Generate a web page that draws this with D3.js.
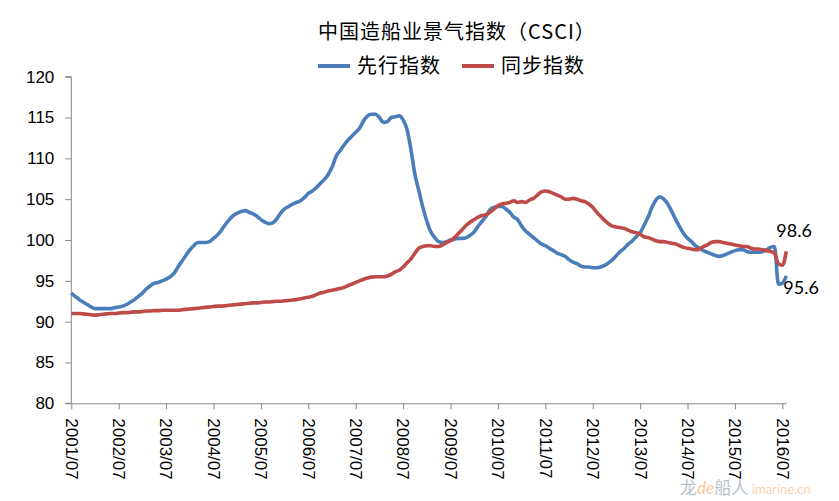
<!DOCTYPE html>
<html>
<head>
<meta charset="utf-8">
<script src="https://cdn.jsdelivr.net/npm/d3@7"></script>
<style>
  body { margin: 0; background: #fff; }
  svg { display: block; font-family: Lato, "Noto Sans", sans-serif; }
  .axis path, .axis line { stroke: #868686; }
  .axis text { font-size: 17px; fill: #000; }
</style>
</head>
<body>
<svg width="839" height="501"></svg>
<script>
// monthly values, 2001/07 .. 2016/08
var leading = [
	93.5, 93.1, 92.7, 92.4, 92.1, 91.8, 91.6, 91.6, 91.6, 91.6, 91.6, 91.7,
	91.8, 91.9, 92.1, 92.4, 92.7, 93.1, 93.5, 94.0, 94.4, 94.7, 94.8, 95.0,
	95.2, 95.5, 95.9, 96.7, 97.4, 98.1, 98.8, 99.3, 99.7, 99.7, 99.7, 99.8,
	100.2, 100.6, 101.2, 101.9, 102.5, 103.0, 103.3, 103.5, 103.6, 103.4, 103.2, 102.9,
	102.5, 102.2, 102.0, 102.1, 102.6, 103.3, 103.8, 104.1, 104.4, 104.6, 104.8, 105.2,
	105.7, 106.0, 106.4, 106.9, 107.4, 108.0, 108.9, 110.2, 110.9, 111.6, 112.2, 112.7,
	113.2, 113.7, 114.6, 115.2, 115.4, 115.4, 115.0, 114.4, 114.5, 115.0, 115.1, 115.2,
	114.7, 113.5, 111.0, 108.0, 106.0, 104.0, 102.3, 101.0, 100.3, 99.8, 99.7, 99.8,
	100.0, 100.1, 100.2, 100.2, 100.3, 100.6, 101.0, 101.7, 102.3, 102.9, 103.7, 104.0,
	104.1, 104.1, 103.8, 103.4, 102.8, 102.5, 101.7, 101.1, 100.7, 100.3, 99.9, 99.5,
	99.3, 99.0, 98.7, 98.4, 98.2, 98.0, 97.6, 97.3, 97.1, 96.8, 96.7, 96.7,
	96.6, 96.6, 96.7, 96.9, 97.2, 97.6, 98.1, 98.6, 99.0, 99.5, 99.9, 100.4,
	100.9, 101.8, 102.8, 104.0, 104.9, 105.3, 105.0, 104.4, 103.5, 102.5, 101.6, 100.8,
	100.2, 99.8, 99.3, 99.0, 98.7, 98.5, 98.3, 98.1, 98.0, 98.1, 98.3, 98.5,
	98.7, 98.8, 98.8, 98.6, 98.5, 98.5, 98.5, 98.6, 98.8, 99.1, 99.2, 94.6,
	94.7, 95.6
];
var coincident = [
	91.0, 91.0, 91.0, 90.95, 90.9, 90.85, 90.8, 90.85, 90.9, 90.95, 91.0, 91.0,
	91.05, 91.1, 91.1, 91.15, 91.2, 91.2, 91.25, 91.3, 91.3, 91.35, 91.35, 91.4,
	91.4, 91.4, 91.4, 91.4, 91.45, 91.5, 91.55, 91.6, 91.65, 91.7, 91.75, 91.8,
	91.85, 91.9, 91.9, 91.95, 92.0, 92.05, 92.1, 92.15, 92.2, 92.25, 92.3, 92.3,
	92.35, 92.4, 92.4, 92.45, 92.5, 92.5, 92.55, 92.6, 92.65, 92.7, 92.8, 92.9,
	93.0, 93.1, 93.3, 93.5, 93.6, 93.75, 93.85, 93.95, 94.05, 94.2, 94.4, 94.6,
	94.8, 95.0, 95.2, 95.35, 95.45, 95.5, 95.5, 95.5, 95.6, 95.8, 96.1, 96.3,
	96.7, 97.2, 97.7, 98.4, 99.0, 99.2, 99.3, 99.3, 99.2, 99.2, 99.4, 99.7,
	99.9, 100.3, 100.8, 101.3, 101.8, 102.2, 102.5, 102.8, 103.0, 103.1, 103.4, 103.8,
	104.2, 104.4, 104.5, 104.6, 104.8, 104.6, 104.7, 104.6, 104.9, 105.1, 105.5, 105.9,
	106.0, 105.9, 105.7, 105.5, 105.3, 105.0, 105.0, 105.1, 105.0, 104.8, 104.7, 104.4,
	104.0, 103.4, 102.9, 102.4, 102.0, 101.7, 101.6, 101.5, 101.4, 101.2, 101.0, 100.9,
	100.7, 100.4, 100.3, 100.1, 99.9, 99.8, 99.8, 99.7, 99.6, 99.5, 99.3, 99.1,
	99.0, 98.9, 98.8, 98.9, 99.2, 99.4, 99.7, 99.8, 99.8, 99.7, 99.6, 99.5,
	99.4, 99.3, 99.2, 99.2, 99.0, 98.9, 98.9, 98.8, 98.7, 98.6, 98.4, 97.1,
	96.9, 98.6
];
var seriesNames = ["先行指数", "同步指数"];
var tickLabels = ["2001/07", "2002/07", "2003/07", "2004/07", "2005/07", "2006/07", "2007/07", "2008/07",
	"2009/07", "2010/07", "2011/07", "2012/07", "2013/07", "2014/07", "2015/07", "2016/07"];
var yTicks = [80, 85, 90, 95, 100, 105, 110, 115, 120];

var colors = ["#4a7ebb", "#be4b48"];

var svg = d3.select("svg"),
	margin = {top: 76.7, left: 71.3},
	width = 715,
	height = 326.6;

var x = d3.scaleLinear().domain([0, leading.length - 1]).range([0, width]),
	y = d3.scaleLinear().domain([80, 120]).range([height, 0]);

var g = svg.append("g")
	.attr("transform", "translate(" + margin.left + "," + margin.top + ")");

// y axis
g.append("g")
	.attr("class", "axis axis--y")
	.call(d3.axisLeft(y).tickValues(yTicks).tickSize(6).tickPadding(11))
	.call(function(s) { s.select(".domain").attr("d", "M-6," + height + "H0V0H-6"); });

// x axis
var xAxis = g.append("g")
	.attr("class", "axis axis--x")
	.attr("transform", "translate(0," + height + ")")
	.call(d3.axisBottom(x)
		.tickValues(d3.range(0, leading.length, 12))
		.tickFormat(function(d) { return tickLabels[d / 12]; })
		.tickSize(6).tickSizeOuter(0));

xAxis.selectAll("text")
	.attr("transform", "rotate(90)")
	.attr("x", 15)
	.attr("y", 0)
	.attr("dy", "0.36em")
	.attr("text-anchor", "start");

// lines
var line = d3.line()
	.x(function(d, i) { return x(i); })
	.y(function(d) { return y(d); })
	.curve(d3.curveMonotoneX);

[leading, coincident].forEach(function(s, k) {
	g.append("path")
		.datum(s)
		.attr("fill", "none")
		.attr("stroke", colors[k])
		.attr("stroke-width", 3.6)
		.attr("stroke-linejoin", "round")
		.attr("d", line);
});

// end labels
var last = leading.length - 1;
g.append("text")
	.attr("x", x(last) - 10)
	.attr("y", y(coincident[last]) - 14)
	.attr("font-size", 18)
	.text(coincident[last].toFixed(1));
g.append("text")
	.attr("x", x(last) - 3)
	.attr("y", y(leading[last]) + 18)
	.attr("font-size", 18)
	.text(leading[last].toFixed(1));

// title
svg.append("text")
	.attr("x", 457)
	.attr("y", 39)
	.attr("text-anchor", "middle")
	.attr("font-family", "'Noto Sans CJK SC'")
	.attr("font-size", 20)
	.attr("letter-spacing", 1)
	.text("中国造船业景气指数（CSCI）");

// legend
var legend = svg.append("g").attr("transform", "translate(318,66)");
var lx = [0, 144];
seriesNames.forEach(function(name, k) {
	legend.append("line")
		.attr("x1", lx[k]).attr("x2", lx[k] + 32)
		.attr("stroke", colors[k])
		.attr("stroke-width", 4);
	legend.append("text")
		.attr("x", lx[k] + 39)
		.attr("dy", "0.36em")
		.attr("font-family", "'Noto Sans CJK SC'")
		.attr("font-size", 20)
		.attr("letter-spacing", 1)
		.text(name);
});

// watermark
var wm = svg.append("text").attr("x", 680).attr("y", 494).attr("font-size", 17).attr("opacity", 0.55);
wm.append("tspan").attr("fill", "#7a8fa6").attr("font-family", "'Noto Sans CJK SC'").text("龙");
wm.append("tspan").attr("fill", "#f59a3a").attr("font-style", "italic").text("de");
wm.append("tspan").attr("fill", "#7a8fa6").attr("font-family", "'Noto Sans CJK SC'").text("船人 ");
wm.append("tspan").attr("fill", "#f5b070").attr("font-size", 13).text("imarine.cn");
</script>
</body>
</html>
